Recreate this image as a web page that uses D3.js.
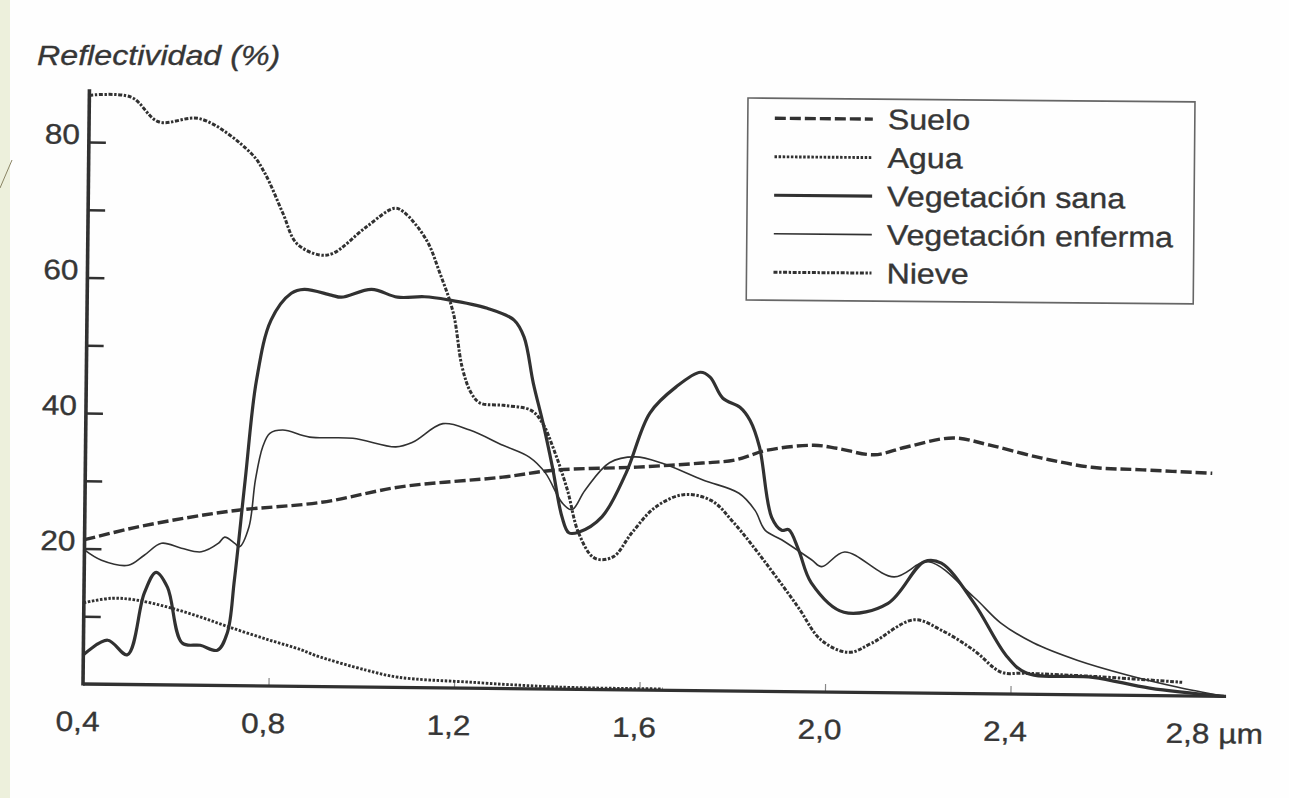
<!DOCTYPE html>
<html><head><meta charset="utf-8">
<script src="https://cdn.jsdelivr.net/npm/d3@7"></script>
<style>
html,body{margin:0;padding:0;background:#fefefe;}
svg{display:block;}
text{font-family:"Liberation Sans", Arial, sans-serif; fill:#363636; stroke:#363636; stroke-width:0.35px;}
</style></head><body>
<svg id="chart" width="1289" height="798"></svg>
<script>
// ---------- data (wavelength µm, reflectivity %) ----------
const seriesNames = ["Suelo", "Agua", "Vegetación sana", "Vegetación enferma", "Nieve"];

const suelo = [[0.4,21.3],[0.51,23.2],[0.62,24.7],[0.73,25.9],[0.91,27.2],[1.08,29.6],[1.3,31.2],[1.41,32.3],
  [1.59,32.9],[1.73,33.6],[1.8,34.1],[1.87,35.6],[1.97,36.4],[2.02,36.0],[2.10,35.1],[2.17,36.3],[2.27,37.7],
  [2.35,36.7],[2.46,34.9],[2.57,33.6],[2.68,33.3],[2.83,32.9]];

const agua = [[0.4,12.0],[0.46,12.7],[0.51,12.5],[0.58,11.5],[0.65,10.1],[0.72,8.5],[0.8,6.8],[0.87,5.4],
  [0.9,4.6],[1.01,2.5],[1.08,1.5],[1.23,0.9],[1.43,0.3],[1.65,0.2]];

const vegSana = [[0.4,4.3],[0.452,6.5],[0.495,4.4],[0.53,13.5],[0.555,16.6],[0.58,14.4],[0.613,6.2],[0.652,5.9],
  [0.689,5.2],[0.71,7.8],[0.724,15.6],[0.745,30.4],[0.767,45.1],[0.797,54.0],[0.84,58.0],[0.868,58.6],[0.926,57.8],
  [0.948,57.5],[1.013,58.7],[1.069,57.6],[1.127,57.7],[1.177,57.3],[1.263,56.1],[1.321,54.4],[1.343,51.9],
  [1.364,45.1],[1.386,39.2],[1.407,32.8],[1.429,25.4],[1.444,23.1],[1.465,23.2],[1.515,25.5],[1.566,32.0],
  [1.616,40.9],[1.672,44.8],[1.724,47.0],[1.745,46.3],[1.773,43.2],[1.81,41.9],[1.832,40.0],[1.853,36.1],
  [1.881,25.7],[1.903,23.8],[1.918,23.9],[1.94,20.9],[1.968,16.1],[2.039,11.8],[2.134,13.2],[2.211,19.4],
  [2.248,19.2],[2.319,13.4],[2.392,5.5],[2.435,3.1],[2.577,2.6],[2.70,1.1],[2.86,0]];

const vegEnferma = [[0.4,19.8],[0.437,18.3],[0.495,17.6],[0.529,19.1],[0.566,20.9],[0.609,20.2],[0.652,19.7],
  [0.689,21.0],[0.702,21.9],[0.724,21.0],[0.734,20.5],[0.754,23.4],[0.767,30.4],[0.782,35.3],[0.797,37.3],
  [0.825,37.8],[0.883,36.8],[0.976,36.7],[1.069,35.5],[1.105,36.2],[1.17,39.0],[1.228,38.1],[1.30,35.9],
  [1.357,34.2],[1.392,31.9],[1.429,27.5],[1.45,26.5],[1.478,29.4],[1.53,33.5],[1.586,34.4],[1.644,33.5],
  [1.732,31.1],[1.81,29.2],[1.845,26.7],[1.867,23.8],[1.903,22.4],[1.968,19.5],[1.99,18.5],[2.039,20.7],
  [2.146,17.1],[2.22,19.4],[2.318,14.3],[2.377,10.5],[2.448,7.6],[2.543,5.1],[2.651,3.0],[2.759,1.3],[2.86,0]];

const nieve = [[0.4,86.9],[0.49,86.7],[0.55,83.1],[0.64,83.6],[0.75,78.6],[0.78,75.7],[0.82,69.8],[0.85,65.4],
  [0.9,63.7],[0.93,64.0],[1.0,67.9],[1.06,70.7],[1.08,70.2],[1.13,66.1],[1.16,61.2],[1.19,55.3],[1.21,47.4],
  [1.23,43.6],[1.25,42.1],[1.3,41.8],[1.36,41.1],[1.385,39.2],[1.41,35.3],[1.44,29.4],[1.465,23.1],[1.5,19.4],
  [1.54,19.6],[1.58,23.2],[1.63,27.0],[1.69,28.9],[1.75,28.1],[1.8,24.8],[1.87,18.9],[1.94,12.5],[1.99,7.7],
  [2.05,5.9],[2.1,7.3],[2.19,10.8],[2.25,9.3],[2.32,6.4],[2.38,3.2],[2.43,3.1],[2.59,2.7],[2.77,2.0]];

const xTickValues = [0.4, 0.8, 1.2, 1.6, 2.0, 2.4, 2.8];
const xTickLabels = ["0,4", "0,8", "1,2", "1,6", "2,0", "2,4", "2,8 µm"];
const yTickValues = [10, 20, 30, 40, 50, 60, 70, 80];
const yTickLabels = ["", "20", "", "40", "", "60", "", "80"];
const yTitle = "Reflectividad (%)";

// ---------- styles ----------
const ink = "#313131";
const styles = [
  {data: suelo, width: 3.4, dash: "11,4"},
  {data: agua, width: 2.9, dash: "2.5,1.6"},
  {data: vegSana, width: 3.2, dash: null},
  {data: vegEnferma, width: 1.6, dash: null},
  {data: nieve, width: 3.0, dash: "4,1.6,2.4,1.6"}
];
const SX = 1.13; // horizontal stretch of the scanned lettering

const svg = d3.select("#chart");
svg.append("rect").attr("width", 1289).attr("height", 798).attr("fill", "#fefefe");
svg.append("rect").attr("x", 0).attr("y", 0).attr("width", 10).attr("height", 798).attr("fill", "#edf0dc");
svg.append("line").attr("x1", 12).attr("y1", 160).attr("x2", 0).attr("y2", 188)
  .attr("stroke", "#8a8464").attr("stroke-width", 1);

const ox = 83, oy = 684;
const x = d3.scaleLinear().domain([0.4, 2.8]).range([83, 1196]);
const y = d3.scaleLinear().domain([0, 80]).range([684, 142]);

function stext(sel, tx, ty, size, anchor) {
  return sel.attr("transform", `translate(${tx},${ty}) scale(${SX},1)`)
    .attr("font-size", size).attr("text-anchor", anchor || "start");
}

// y title
stext(svg.append("text").text(yTitle), 37, 65, 28.5).attr("font-style", "italic");

// plot group (scan is slightly rotated)
const g = svg.append("g").attr("transform", `rotate(0.62,${ox},${oy})`);

// y ticks (inward)
g.append("g").attr("transform", `translate(${ox},0)`)
  .call(d3.axisRight(y).tickValues(yTickValues).tickSize(17).tickFormat(""))
  .call(s => s.select(".domain").remove())
  .call(s => s.selectAll(".tick line").attr("stroke", ink).attr("stroke-width", 2.6));

// x ticks (small, upward)
g.append("g").attr("transform", `translate(0,${oy})`)
  .call(d3.axisTop(x).tickValues(xTickValues.slice(1, 6)).tickSize(8).tickFormat(""))
  .call(s => s.select(".domain").remove())
  .call(s => s.selectAll(".tick line").attr("stroke", "#888").attr("stroke-width", 1.2));

// axis lines
g.append("line").attr("x1", ox).attr("x2", ox).attr("y1", oy + 1.5).attr("y2", y(87.8))
  .attr("stroke", ink).attr("stroke-width", 3.6);
g.append("line").attr("x1", ox).attr("x2", x(2.865)).attr("y1", oy).attr("y2", oy)
  .attr("stroke", ink).attr("stroke-width", 3.4);

// y tick labels
yTickValues.forEach((v, i) => {
  if (!yTickLabels[i]) return;
  stext(g.append("text").text(yTickLabels[i]), 74, y(v) + 2, 28, "end");
});

// x tick labels
xTickValues.forEach((v, i) => {
  const lab = xTickLabels[i];
  if (lab.indexOf("µm") >= 0) {
    stext(g.append("text").text(lab), x(v) - 30, oy + 47, 28, "start");
  } else {
    stext(g.append("text").text(lab), x(v) - 5, oy + 47, 28, "middle");
  }
});

// curves
const line = d3.line().x(d => x(d[0])).y(d => y(d[1])).curve(d3.curveCatmullRom.alpha(0.5));
styles.forEach(st => {
  g.append("path").datum(st.data).attr("d", line).attr("fill", "none")
    .attr("stroke", ink).attr("stroke-width", st.width)
    .attr("stroke-dasharray", st.dash).attr("stroke-linejoin", "round");
});

// legend
const lg = svg.append("g").attr("transform", "translate(748,98) rotate(0.5)");
lg.append("rect").attr("x", 0).attr("y", 0).attr("width", 447).attr("height", 202)
  .attr("fill", "#fefefe").attr("stroke", "#666").attr("stroke-width", 1.6);
seriesNames.forEach((name, i) => {
  const ly = 20 + i * 38.5;
  lg.append("line").attr("x1", 27).attr("x2", 125).attr("y1", ly).attr("y2", ly)
    .attr("stroke", ink).attr("stroke-width", styles[i].width).attr("stroke-dasharray", styles[i].dash);
  stext(lg.append("text").text(name), 140, ly + 10, 28.5);
});
</script>
</body></html>
